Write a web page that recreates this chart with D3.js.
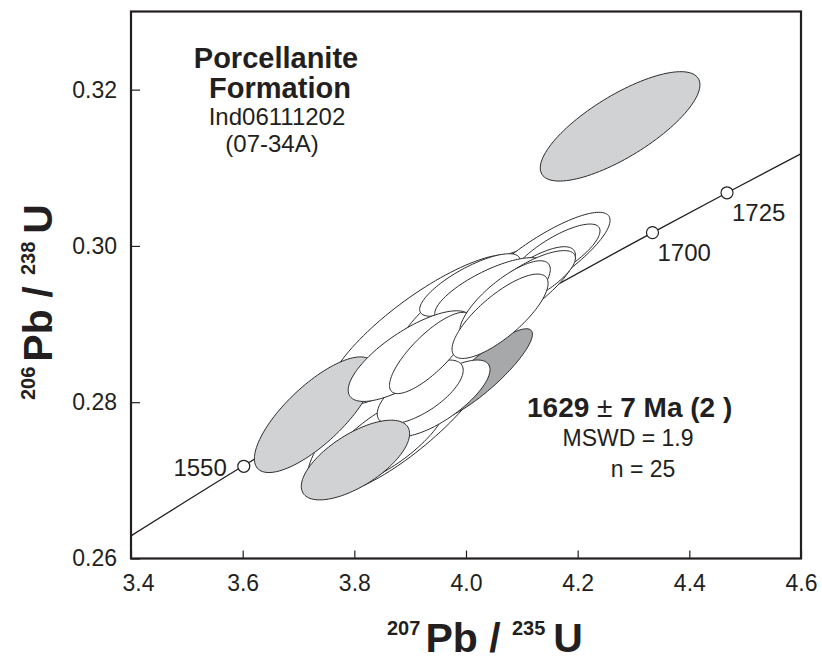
<!DOCTYPE html>
<html>
<head>
<meta charset="utf-8">
<script src="https://cdn.jsdelivr.net/npm/d3@7"></script>
<style>
body { margin: 0; background: #fff; }
svg text { font-family: "Liberation Sans", Arial, Helvetica, sans-serif; fill: #231f20; }
</style>
</head>
<body>
<div id="chart"></div>
<script>
// axis ticks
var xTicks = [3.4, 3.6, 3.8, 4.0, 4.2, 4.4, 4.6]
var yTicks = [0.26, 0.28, 0.30, 0.32]

var concX = [3.4, 3.6, 4.0, 4.334, 4.4675, 4.6]
var concY = [0.2629, 0.2718, 0.2885, 0.3017, 0.3068, 0.3118]
var ageLbl = [1550, 1700, 1725]
var ageX = [3.602, 4.334, 4.4675]
var ageY = [0.2718, 0.3017, 0.3068]

// error ellipses (drawing order): 207Pb/235U, 2s, 206Pb/238U, 2s, rho, status
var ellX   = [3.891, 3.927, 4.016, 4.133, 4.159, 4.097, 4.007, 3.855, 3.729, 4.029, 3.953, 3.918, 4.043, 4.115, 3.900, 3.936, 4.070, 4.061, 3.802, 4.276]
var ellSX  = [0.176, 0.176, 0.140, 0.125, 0.081, 0.099, 0.090, 0.111, 0.108, 0.090, 0.090, 0.077, 0.099, 0.081, 0.111, 0.073, 0.081, 0.086, 0.097, 0.143]
var ellY   = [0.2793, 0.2892, 0.2924, 0.2979, 0.2988, 0.2944, 0.2950, 0.2752, 0.2784, 0.2836, 0.2805, 0.2813, 0.2944, 0.2956, 0.2859, 0.2863, 0.2931, 0.2910, 0.2726, 0.3153]
var ellSY  = [0.0113, 0.0097, 0.0074, 0.0064, 0.0040, 0.0055, 0.0040, 0.0061, 0.0074, 0.0058, 0.0049, 0.0041, 0.0041, 0.0038, 0.0058, 0.0052, 0.0050, 0.0054, 0.0051, 0.0070]
var ellRho = [0.80, 0.82, 0.80, 0.84, 0.78, 0.80, 0.78, 0.75, 0.76, 0.88, 0.75, 0.68, 0.75, 0.75, 0.75, 0.80, 0.78, 0.78, 0.66, 0.76]
var ellSt  = ["in","in","in","in","in","in","in","in","out","rej","in","in","in","in","in","in","in","in","out","out"]

var W = 822, H = 662
var margin = { top: 11.5, right: 21, bottom: 103.5, left: 131 }
var w = W - margin.left - margin.right
var h = H - margin.top - margin.bottom

var svg = d3.select("#chart").append("svg")
    .attr("width", W)
    .attr("height", H)
var g = svg.append("g")
    .attr("transform", "translate(" + margin.left + "," + margin.top + ")")

var x = d3.scaleLinear().domain([3.4, 4.6]).range([0, w])
var y = d3.scaleLinear().domain([0.26, 0.33]).range([h, 0])
var fill = d3.scaleOrdinal().domain(["in", "out", "rej"]).range(["#ffffff", "#d1d2d4", "#a7a8aa"])

g.append("clipPath").attr("id", "clip")
    .append("rect").attr("width", w).attr("height", h)
var plot = g.append("g").attr("clip-path", "url(#clip)")

// concordia
var cLine = d3.line()
    .x(function(d) { return x(d[0]) })
    .y(function(d) { return y(d[1]) })
    .curve(d3.curveMonotoneX)
plot.append("path")
    .datum(concX.map(function(v, i) { return [v, concY[i]] }))
    .attr("d", cLine)
    .attr("fill", "none")
    .attr("stroke", "#231f20")
    .attr("stroke-width", 1.3)

// ellipses
function ellPts(i) {
    var pts = [], r = ellRho[i], k = Math.sqrt(1 - r * r)
    for (var j = 0; j < 120; j++) {
        var t = j / 120 * 2 * Math.PI
        pts.push([ellX[i] + ellSX[i] * Math.cos(t),
                  ellY[i] + ellSY[i] * (r * Math.cos(t) + k * Math.sin(t))])
    }
    return pts
}
var eLine = d3.line()
    .x(function(d) { return x(d[0]) })
    .y(function(d) { return y(d[1]) })
    .curve(d3.curveLinearClosed)

plot.selectAll("path.ell")
    .data(d3.range(ellX.length))
    .enter()
    .append("path")
        .attr("class", "ell")
        .attr("d", function(i) { return eLine(ellPts(i)) })
        .attr("fill", function(i) { return fill(ellSt[i]) })
        .attr("stroke", "#2b2b2b")
        .attr("stroke-width", 1)

// age markers
plot.selectAll("circle.age")
    .data(ageLbl)
    .enter()
    .append("circle")
        .attr("class", "age")
        .attr("cx", function(d, i) { return x(ageX[i]) })
        .attr("cy", function(d, i) { return y(ageY[i]) })
        .attr("r", 6)
        .attr("fill", "#fff")
        .attr("stroke", "#231f20")
        .attr("stroke-width", 1.2)

g.selectAll("text.age")
    .data(ageLbl)
    .enter()
    .append("text")
        .attr("class", "age")
        .attr("x", function(d, i) { return x(ageX[i]) + (i == 0 ? -17 : 5) })
        .attr("y", function(d, i) { return y(ageY[i]) + (i == 0 ? 10 : 28) })
        .attr("text-anchor", function(d, i) { return i == 0 ? "end" : "start" })
        .style("font-size", "24px")
        .text(function(d) { return d })

// axes, ticks pointing inward
var xAx = g.append("g")
    .attr("transform", "translate(0," + h + ")")
    .call(d3.axisBottom(x).tickValues(xTicks).tickFormat(d3.format(".1f"))
        .tickSizeInner(-8).tickSizeOuter(0).tickPadding(16))
xAx.selectAll("text")
    .style("font-size", "23px")
    .attr("dx", function(d, i) { return i == 0 ? 7 : 0 })
var yAx = g.append("g")
    .call(d3.axisLeft(y).tickValues(yTicks).tickFormat(d3.format(".2f"))
        .tickSizeInner(-9).tickSizeOuter(0).tickPadding(14))
yAx.selectAll("text").style("font-size", "23px")
g.selectAll(".domain").remove()
g.selectAll(".tick line").attr("stroke", "#231f20").attr("stroke-width", 1.2)

g.append("rect")
    .attr("width", w)
    .attr("height", h)
    .attr("fill", "none")
    .attr("stroke", "#231f20")
    .attr("stroke-width", 2.2)

// sample label
var lab = g.append("g").attr("text-anchor", "middle")
lab.append("text").attr("x", 145).attr("y", 56.5)
    .style("font-size", "29px").style("font-weight", "bold").text("Porcellanite")
lab.append("text").attr("x", 149).attr("y", 86.5)
    .style("font-size", "29px").style("font-weight", "bold").text("Formation")
lab.append("text").attr("x", 146).attr("y", 113.5)
    .style("font-size", "24px").text("Ind06111202")
lab.append("text").attr("x", 141).attr("y", 140.5)
    .style("font-size", "24px").text("(07-34A)")

// age result
var res = g.append("g")
var t1 = res.append("text").attr("x", 396).attr("y", 405.5)
    .style("font-size", "28px").style("font-weight", "bold")
t1.append("tspan").text("1629 ")
t1.append("tspan").style("font-weight", "normal").text("\u00b1")
t1.append("tspan").text(" 7 Ma (2 )")
res.append("text").attr("x", 497).attr("y", 434.5).attr("text-anchor", "middle")
    .style("font-size", "23px").text("MSWD = 1.9")
res.append("text").attr("x", 512).attr("y", 465.5).attr("text-anchor", "middle")
    .style("font-size", "23px").text("n = 25")

// axis titles
var xt = svg.append("text").attr("x", 387).attr("y", 652)
    .style("font-weight", "bold").style("font-size", "41px")
xt.append("tspan").style("font-size", "20px").attr("dy", -17).text("207")
xt.append("tspan").attr("dy", 17).attr("dx", 5).text("Pb / ")
xt.append("tspan").style("font-size", "20px").attr("dy", -17).text("235")
xt.append("tspan").attr("dy", 17).attr("dx", 8).text("U")

var yt = svg.append("text").attr("transform", "translate(52,400) rotate(-90)")
    .style("font-weight", "bold").style("font-size", "41px")
yt.append("tspan").style("font-size", "20px").attr("dy", -17).text("206")
yt.append("tspan").attr("dy", 17).attr("dx", 5).text("Pb / ")
yt.append("tspan").style("font-size", "20px").attr("dy", -17).text("238")
yt.append("tspan").attr("dy", 17).attr("dx", 8).text("U")
</script>
</body>
</html>
